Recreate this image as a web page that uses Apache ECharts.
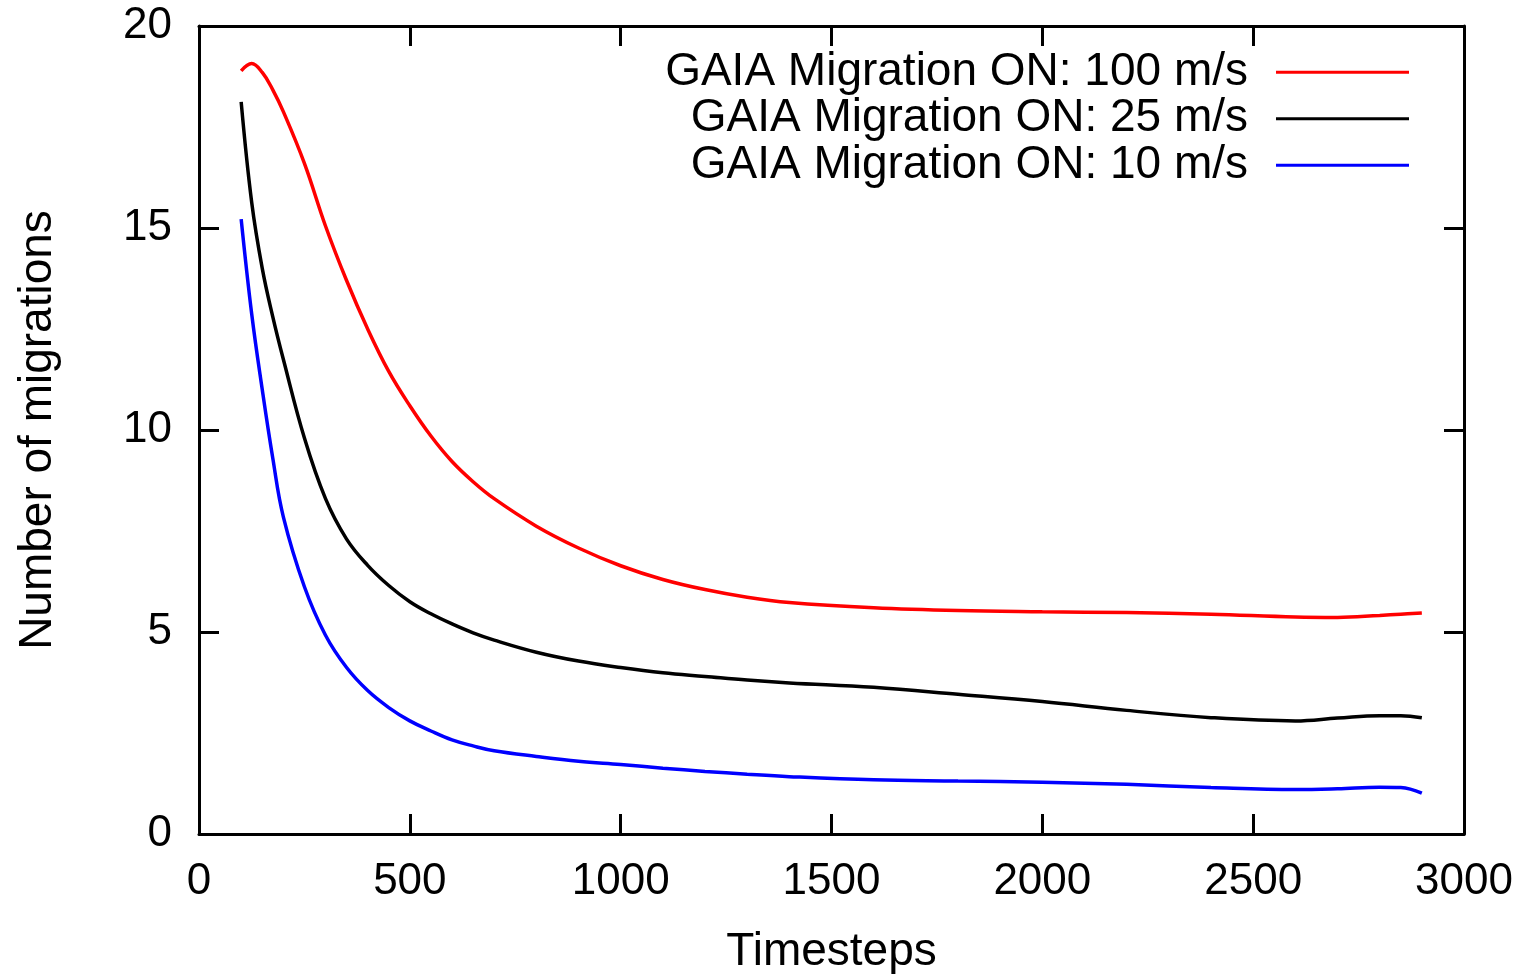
<!DOCTYPE html>
<html>
<head>
<meta charset="utf-8">
<script src="https://cdn.jsdelivr.net/npm/echarts@6/dist/echarts.min.js"></script>
<style>
html, body { margin: 0; padding: 0; background: #fff; }
#chart { width: 1533px; height: 974px; }
</style>
</head>
<body>
<div id="chart"></div>
<script>
const timesteps = [100, 125, 150, 175, 200, 250, 300, 350, 400, 450, 500, 550, 600, 650, 700, 800, 900, 1000, 1100, 1200, 1300, 1400, 1600, 1800, 2000, 2200, 2400, 2600, 2700, 2800, 2850, 2900];
const speed100 = [18.89, 19.07, 18.85, 18.42, 17.88, 16.6, 15.05, 13.7, 12.5, 11.45, 10.6, 9.85, 9.22, 8.72, 8.3, 7.62, 7.08, 6.64, 6.3, 6.05, 5.86, 5.73, 5.6, 5.53, 5.5, 5.48, 5.44, 5.37, 5.36, 5.41, 5.44, 5.47];
const speed25 = [18.12, 15.63, 14.0, 12.8, 11.75, 9.8, 8.3, 7.3, 6.65, 6.15, 5.75, 5.45, 5.2, 4.98, 4.8, 4.5, 4.28, 4.12, 3.99, 3.9, 3.81, 3.74, 3.63, 3.46, 3.28, 3.06, 2.88, 2.8, 2.87, 2.93, 2.93, 2.88];
const speed10 = [15.22, 12.87, 11.0, 9.3, 7.85, 6.12, 4.92, 4.12, 3.55, 3.13, 2.8, 2.55, 2.33, 2.18, 2.06, 1.92, 1.8, 1.72, 1.63, 1.55, 1.48, 1.42, 1.34, 1.31, 1.28, 1.23, 1.15, 1.1, 1.12, 1.16, 1.15, 1.01];
const seriesNames = ['GAIA Migration ON: 100 m/s', 'GAIA Migration ON: 25 m/s', 'GAIA Migration ON: 10 m/s'];
const seriesColors = ['#ff0000', '#000000', '#0000ff'];
const xTicks = { min: 0, max: 3000, interval: 500 };
const yTicks = { min: 0, max: 20, interval: 5 };

const FONT = '"Liberation Sans", Arial, sans-serif';
const pairs = ys => timesteps.map((t, i) => [t, ys[i]]);
const allY = [speed100, speed25, speed10];

const mkLine = () => ({ show: true, onZero: false, lineStyle: { color: '#000', width: 3 } });
const mkTick = () => ({ show: true, inside: true, length: 20, lineStyle: { color: '#000', width: 3 } });

const chart = echarts.init(document.getElementById('chart'), null, { renderer: 'canvas' });

const lineSeries = seriesNames.map((name, i) => ({
  name: name,
  type: 'line',
  xAxisIndex: 0,
  yAxisIndex: 0,
  data: pairs(allY[i]),
  smooth: 0.4,
  symbol: 'none',
  showSymbol: false,
  color: seriesColors[i],
  lineStyle: { color: seriesColors[i], width: 3.5 }
}));
// empty helper series so the mirrored top/right axes are drawn
lineSeries.push({ type: 'line', xAxisIndex: 1, yAxisIndex: 1, data: [], symbol: 'none', silent: true });

chart.setOption({
  animation: false,
  backgroundColor: '#fff',
  grid: { left: 199, right: 69, top: 26, bottom: 140, containLabel: false, outerBoundsMode: 'none' },
  legend: {
    orient: 'vertical',
    align: 'right',
    right: 119,
    top: 44,
    icon: 'rect',
    itemWidth: 133,
    itemHeight: 3,
    itemGap: 0,
    textStyle: { fontFamily: FONT, fontSize: 46, color: '#000', lineHeight: 46.5, padding: [0, 23, 0, 0] },
    data: seriesNames
  },
  xAxis: [
    {
      type: 'value', position: 'bottom',
      min: xTicks.min, max: xTicks.max, interval: xTicks.interval,
      name: 'Timesteps', nameLocation: 'middle', nameGap: 95,
      nameTextStyle: { fontFamily: FONT, fontSize: 46, color: '#000' },
      axisLine: mkLine(), axisTick: mkTick(),
      axisLabel: { fontFamily: FONT, fontSize: 44, color: '#000', margin: 26, formatter: v => String(v) },
      splitLine: { show: false }
    },
    {
      type: 'value', position: 'top',
      min: xTicks.min, max: xTicks.max, interval: xTicks.interval,
      axisLine: mkLine(), axisTick: mkTick(),
      axisLabel: { show: false }, splitLine: { show: false }
    }
  ],
  yAxis: [
    {
      type: 'value', position: 'left',
      min: yTicks.min, max: yTicks.max, interval: yTicks.interval,
      name: 'Number of migrations', nameLocation: 'middle', nameGap: 138,
      nameTextStyle: { fontFamily: FONT, fontSize: 46, color: '#000' },
      axisLine: mkLine(), axisTick: mkTick(),
      axisLabel: { fontFamily: FONT, fontSize: 44, color: '#000', margin: 27, formatter: v => String(v) },
      splitLine: { show: false }
    },
    {
      type: 'value', position: 'right',
      min: yTicks.min, max: yTicks.max, interval: yTicks.interval,
      axisLine: mkLine(), axisTick: mkTick(),
      axisLabel: { show: false }, splitLine: { show: false }
    }
  ],
  series: lineSeries
});
</script>
</body>
</html>
